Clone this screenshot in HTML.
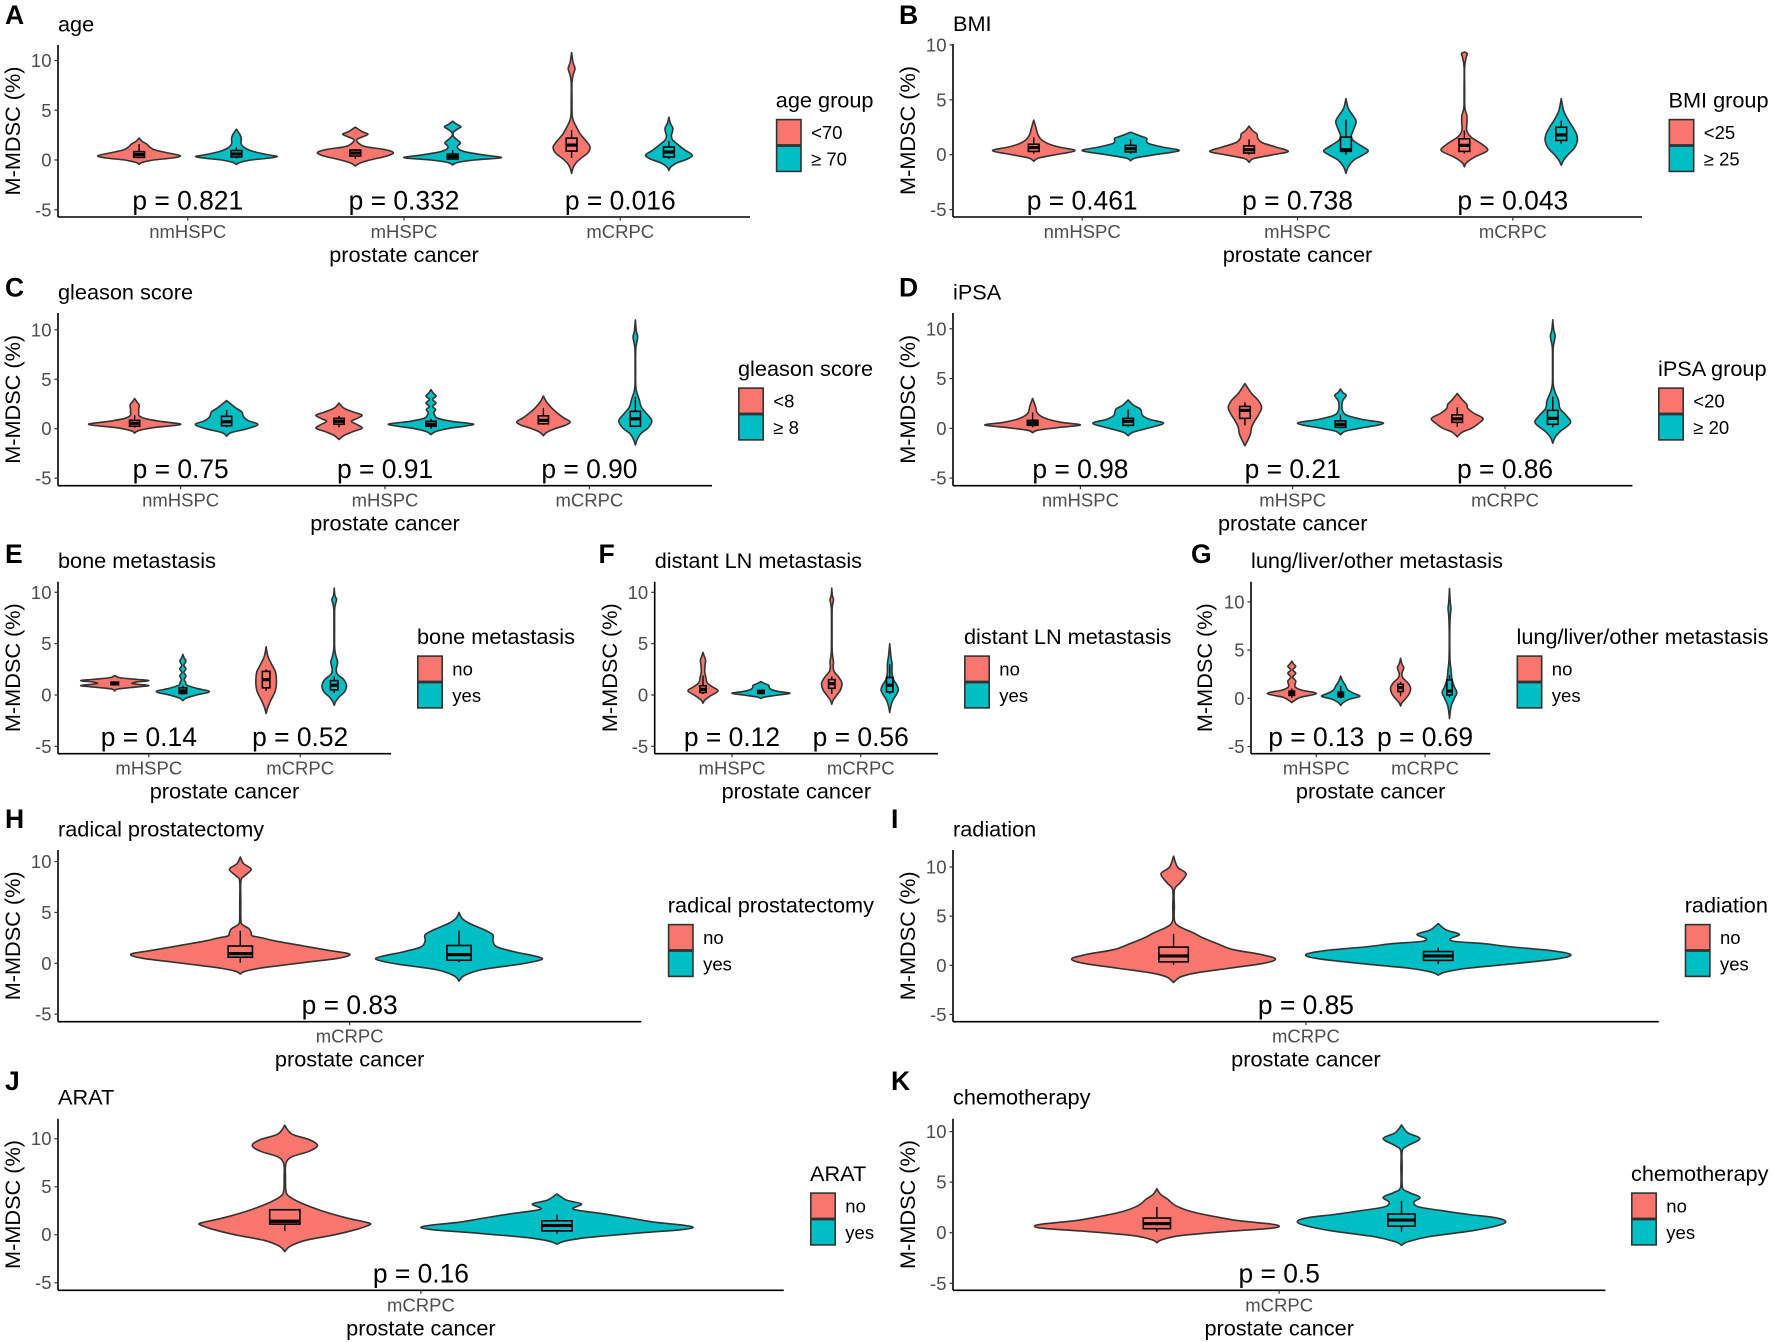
<!DOCTYPE html>
<html lang="en">
<head>
<meta charset="utf-8">
<title>M-MDSC violin plots</title>
<style>
html,body{margin:0;padding:0;background:#fff;}
svg{display:block;font-family:"Liberation Sans",Arial,sans-serif;}
</style>
</head>
<body>
<svg id="figure" width="1772" height="1342" viewBox="0 0 1772 1342" xmlns="http://www.w3.org/2000/svg"></svg>
<script>
// ---------- shared data ----------
const yTicks = [-5, 0, 5, 10];
const cats3 = ['nmHSPC', 'mHSPC', 'mCRPC'];
const cats2 = ['mHSPC', 'mCRPC'];
const cats1 = ['mCRPC'];
const noYes = ['no', 'yes'];

// Each violin is a list of [M-MDSC value, relative density]; each box is [low, q1, median, q3, high].
// Order inside a panel: group 1 / group 2 for category 1, then category 2, ...
const agePValues = ['p = 0.821', 'p = 0.332', 'p = 0.016'];
const ageGroups = ['<70', '≥ 70'];
const ageViolins = [
  [[-.45,0],[-.25,.06],[0,.3],[.2,.68],[.43,.85],[.7,.6],[1,.33],[1.3,.22],[1.6,.16],[1.85,.07],[2.2,0]],
  [[-.45,0],[-.25,.07],[0,.3],[.15,.6],[.33,.84],[.55,.62],[.85,.35],[1.2,.18],[1.6,.1],[2.1,.1],[2.5,.08],[3.1,0]],
  [[-.6,0],[-.3,.1],[0,.3],[.4,.65],[.75,.78],[1.05,.6],[1.3,.25],[1.5,.12],[1.9,.03],[2.1,.04],[2.35,.16],[2.6,.26],[2.85,.14],[3.3,0]],
  [[-.5,0],[-.25,.1],[0,.45],[.23,1],[.5,.65],[.8,.28],[1.1,.12],[1.4,.1],[1.7,.16],[2,.1],[2.4,.015],[2.8,.02],[3.1,.1],[3.35,.17],[3.6,.08],[3.9,0]],
  [[-1.35,0],[-.8,.03],[-.3,.09],[.2,.2],[.7,.33],[1.3,.38],[1.9,.3],[2.6,.18],[3.3,.1],[3.9,.04],[4.5,.012],[6,.008],[7.8,.008],[8.6,.035],[9.2,.07],[9.8,.03],[10.8,0]],
  [[-1.05,0],[-.7,.04],[-.3,.16],[.1,.38],[.5,.48],[1,.33],[1.5,.2],[2,.08],[2.4,.05],[2.8,.07],[3.2,.08],[3.7,.03],[4.3,0]]
];
const ageBoxes = [[.15,.27,.55,.84,1.6],[.15,.3,.6,.95,1.3],[.1,.4,.7,1,1.1],[.05,.1,.35,.6,1],[.2,.9,1.5,2.2,3],[.1,.3,.8,1.3,1.9]];

const bmiPValues = ['p = 0.461', 'p = 0.738', 'p = 0.043'];
const bmiGroups = ['<25', '≥ 25'];
const bmiViolins = [
  [[-.6,0],[-.3,.1],[0,.45],[.37,.85],[.7,.52],[1,.3],[1.4,.15],[1.9,.08],[2.4,.05],[3.15,0]],
  [[-.55,0],[-.3,.1],[0,.5],[.37,1],[.7,.65],[1,.38],[1.2,.33],[1.5,.33],[1.7,.2],[2.05,0]],
  [[-.7,0],[-.35,.1],[0,.5],[.3,.81],[.7,.55],[1.1,.27],[1.5,.18],[1.9,.16],[2.2,.07],[2.6,0]],
  [[-1.7,0],[-1.1,.05],[-.5,.16],[0,.36],[.37,.46],[.8,.32],[1.3,.15],[1.7,.11],[2.2,.15],[3,.21],[3.6,.14],[4.2,.05],[5.1,0]],
  [[-1.1,0],[-.7,.05],[-.2,.22],[.2,.42],[.5,.48],[1,.35],[1.6,.14],[2.2,.05],[3,.055],[3.6,.05],[4.3,.01],[6,.006],[8,.006],[8.9,.04],[9.2,.06],[9.35,0]],
  [[-.95,0],[-.5,.05],[0,.14],[.6,.27],[1.2,.33],[1.8,.32],[2.5,.24],[3.2,.14],[4,.05],[5.1,0]]
];
const bmiBoxes = [[.1,.3,.65,.95,1.6],[.1,.25,.55,.85,1.4],[0,.15,.45,.8,1.4],[0,.3,.45,1.6,3.2],[.1,.3,.85,1.45,2.2],[1,1.3,1.8,2.5,3.1]];

const gleasonPValues = ['p = 0.75', 'p = 0.91', 'p = 0.90'];
const gleasonGroups = ['<8', '≥ 8'];
const gleasonViolins = [
  [[-.45,0],[-.2,.08],[.1,.4],[.43,1],[.75,.55],[1,.25],[1.3,.1],[1.6,.09],[2,.09],[2.4,.1],[2.7,.05],[3.05,0]],
  [[-.75,0],[-.4,.1],[0,.45],[.43,.68],[.8,.48],[1.2,.37],[1.7,.33],[2.1,.2],[2.85,0]],
  [[-1.1,0],[-.7,.1],[-.3,.3],[.05,.5],[.4,.4],[.75,.27],[1.05,.4],[1.38,.5],[1.7,.3],[2.1,.1],[2.6,0]],
  [[-.6,0],[-.3,.1],[0,.35],[.25,.72],[.47,.92],[.75,.45],[1.05,.15],[1.3,.09],[1.6,.06],[1.95,.1],[2.25,.035],[2.6,.11],[2.95,.035],[3.3,.11],[3.6,.05],[3.95,0]],
  [[-.7,0],[-.35,.08],[0,.25],[.35,.48],[.7,.58],[1.1,.44],[1.6,.3],[2.1,.18],[2.7,.07],[3.3,0]],
  [[-1.65,0],[-1.1,.04],[-.5,.12],[.1,.28],[.8,.36],[1.5,.25],[2.2,.13],[3,.08],[3.7,.03],[4.4,.008],[6,.006],[8,.008],[8.7,.03],[9.3,.05],[9.9,.02],[11,0]]
];
const gleasonBoxes = [[.1,.25,.55,.85,1.4],[.15,.3,.7,1.25,1.9],[.15,.45,.75,1.05,1.3],[0,.25,.45,.75,1],[.4,.5,.85,1.3,2.1],[.15,.25,1,1.75,3.2]];

const ipsaPValues = ['p = 0.98', 'p = 0.21', 'p = 0.86'];
const ipsaGroups = ['<20', '≥ 20'];
const ipsaViolins = [
  [[-.45,0],[-.2,.1],[.05,.5],[.33,1],[.6,.6],[.9,.33],[1.2,.18],[1.6,.09],[2.2,.06],[3,0]],
  [[-.75,0],[-.4,.1],[0,.4],[.5,.74],[.9,.45],[1.3,.3],[1.9,.26],[2.3,.12],[2.85,0]],
  [[-1.75,0],[-1.1,.07],[-.5,.12],[.1,.14],[.7,.2],[1.4,.29],[2.1,.35],[2.8,.28],[3.5,.14],[4.5,0]],
  [[-.65,0],[-.3,.1],[0,.4],[.5,.9],[.9,.45],[1.3,.14],[1.7,.05],[2.3,.03],[2.8,.05],[3.3,.12],[3.6,.05],[3.95,0]],
  [[-.85,0],[-.4,.1],[0,.3],[.5,.45],[1,.54],[1.5,.35],[2,.22],[2.4,.2],[2.9,.1],[3.5,0]],
  [[-1.5,0],[-.9,.05],[-.3,.16],[.55,.37],[1.3,.28],[2,.15],[2.8,.12],[3.6,.05],[4.4,.01],[6,.006],[8,.008],[8.7,.03],[9.3,.05],[9.9,.02],[10.9,0]]
];
const ipsaBoxes = [[.1,.3,.55,.8,1.6],[.15,.3,.7,1,1.9],[.3,1,1.8,2.2,2.6],[0,.1,.4,.75,1.4],[.15,.6,.95,1.35,2.1],[.1,.4,1,1.8,3.2]];

const bonePValues = ['p = 0.14', 'p = 0.52'];
const boneViolins = [
  [[.4,0],[.6,.12],[.8,.7],[.92,1],[1.05,.65],[1.15,.5],[1.27,.65],[1.4,1],[1.52,.65],[1.68,.15],[1.9,0]],
  [[-.55,0],[-.3,.1],[0,.4],[.33,.78],[.65,.4],[.95,.12],[1.25,.08],[1.5,.04],[1.85,.09],[2.2,.03],[2.55,.09],[2.9,.03],[3.3,.09],[3.6,.04],[3.95,0]],
  [[-1.8,0],[-1.2,.05],[-.5,.14],[.3,.26],[1,.3],[1.6,.3],[2.3,.27],[3,.16],[3.8,.05],[4.7,0]],
  [[-1,0],[-.6,.05],[-.2,.14],[.3,.3],[.9,.36],[1.5,.28],[2,.1],[2.5,.06],[3.2,.1],[3.8,.05],[4.6,.012],[6.5,.01],[8.3,.012],[8.9,.04],[9.3,.07],[9.7,.02],[10.4,0]]
];
const boneBoxes = [[.95,1,1.15,1.25,1.3],[.05,.15,.4,.7,.9],[.4,.7,1.5,2.3,2.5],[.2,.5,.95,1.4,1.8]];

const lnPValues = ['p = 0.12', 'p = 0.56'];
const lnViolins = [
  [[-.8,0],[-.5,.06],[-.1,.25],[.4,.52],[.8,.32],[1.2,.14],[1.7,.1],[2.3,.06],[2.9,.07],[3.4,.09],[3.8,.04],[4.15,0]],
  [[-.35,0],[-.2,.12],[0,.6],[.17,1],[.35,.6],[.55,.35],[.75,.28],[.95,.27],[1.1,.14],[1.3,0]],
  [[-.9,0],[-.5,.05],[-.1,.15],[.5,.3],[1.15,.35],[1.7,.25],[2.3,.08],[2.8,.05],[3.2,.06],[3.8,.03],[4.5,.012],[6.5,.01],[8.3,.012],[8.9,.035],[9.3,.06],[9.7,.02],[10.4,0]],
  [[-1.7,0],[-1.1,.04],[-.5,.11],[0,.22],[.5,.3],[1,.24],[1.5,.13],[2.2,.08],[3,.08],[3.8,.04],[5,0]]
];
const lnBoxes = [[.1,.25,.55,.9,1.9],[.1,.15,.3,.45,.5],[.1,.65,1.1,1.5,1.8],[.1,.3,.95,1.7,3]];

const lungPValues = ['p = 0.13', 'p = 0.69'];
const lungViolins = [
  [[-.45,0],[-.25,.1],[.1,.35],[.5,1],[.85,.4],[1.15,.15],[1.4,.13],[1.8,.16],[2.2,.04],[2.6,.16],[2.95,.04],[3.3,.16],[3.55,.08],[3.85,0]],
  [[-.75,0],[-.45,.1],[-.1,.35],[.2,.78],[.5,.55],[.85,.3],[1.3,.2],[1.8,.08],[2.3,0]],
  [[-.8,0],[-.45,.06],[0,.22],[.5,.36],[1.05,.41],[1.6,.3],[2.1,.1],[2.5,.05],[2.85,.09],[3.2,.13],[3.6,.05],[4.15,0]],
  [[-2.1,0],[-1.4,.03],[-.7,.08],[0,.2],[.6,.3],[1.2,.2],[2,.1],[3,.06],[3.8,.025],[5,.012],[7,.012],[8.5,.03],[9.3,.06],[10,.03],[11.4,0]]
];
const lungBoxes = [[.05,.3,.55,.75,1],[0,.15,.4,.65,1.3],[.2,.7,1.1,1.45,1.7],[.1,.35,.75,1.9,2.4]];

const rpPValues = ['p = 0.83'];
const rpViolins = [
  [[-1.05,0],[-.8,.04],[-.5,.17],[-.2,.38],[.1,.6],[.5,.9],[.9,1],[1.25,.82],[1.7,.58],[2.2,.32],[2.5,.2],[2.7,.11],[3,.1],[3.4,.08],[3.8,.02],[4.2,.006],[6,.005],[8.1,.006],[8.6,.04],[9.25,.1],[9.8,.03],[10.45,0]],
  [[-1.75,0],[-1.2,.05],[-.6,.22],[-.1,.55],[.25,.72],[.5,.76],[.8,.66],[1.1,.52],[1.6,.35],[2.2,.31],[2.8,.31],[3.3,.23],[3.9,.1],[4.4,.03],[5,0]]
];
const rpBoxes = [[.05,.6,.95,1.7,3.2],[.1,.3,.85,1.75,3.2]];

const radPValues = ['p = 0.85'];
const radViolins = [
  [[-1.75,0],[-1.2,.05],[-.8,.16],[-.3,.42],[.2,.68],[.65,.77],[1.1,.66],[1.6,.45],[2.2,.33],[2.8,.22],[3.3,.15],[3.9,.05],[4.5,.008],[6,.006],[7.7,.007],[8.4,.05],[9.3,.095],[10,.03],[11.1,0]],
  [[-1,0],[-.7,.05],[-.3,.22],[.2,.6],[.7,.92],[1.1,1],[1.5,.85],[1.9,.53],[2.2,.35],[2.42,.13],[2.7,.09],[3.15,.16],[3.6,.06],[4.25,0]]
];
const radBoxes = [[.05,.35,.95,1.85,3.2],[.15,.5,.95,1.4,1.8]];

const aratPValues = ['p = 0.16'];
const aratViolins = [
  [[-1.75,0],[-1.2,.04],[-.6,.15],[0,.37],[.6,.54],[.95,.61],[1.15,.63],[1.35,.58],[1.8,.44],[2.5,.27],[3.3,.12],[4,.03],[4.6,.008],[6,.005],[7.4,.008],[8.1,.05],[8.7,.18],[9.3,.24],[9.9,.18],[10.5,.05],[11.4,0]],
  [[-1,0],[-.7,.05],[-.3,.22],[.2,.62],[.5,.9],[.75,1],[1,.92],[1.3,.72],[1.7,.55],[2.2,.33],[2.65,.12],[3.2,.18],[3.6,.07],[4.25,0]]
];
const aratBoxes = [[.4,1.1,1.4,2.6,2.6],[.1,.4,.95,1.45,2.1]];

const chemoPValues = ['p = 0.5'];
const chemoViolins = [
  [[-1,0],[-.7,.04],[-.3,.19],[.1,.55],[.42,.92],[.65,1],[.88,.92],[1.2,.66],[1.6,.47],[2.1,.28],[2.7,.15],[3.3,.09],[3.8,.03],[4.35,0]],
  [[-1.25,0],[-.9,.05],[-.4,.22],[.2,.58],[.75,.8],[1.15,.85],[1.5,.76],[1.8,.55],[2.2,.32],[2.55,.14],[3,.1],[3.5,.15],[4,.06],[4.5,.007],[6.5,.005],[8.1,.006],[8.6,.05],[9.3,.15],[9.9,.05],[10.65,0]]
];
const chemoBoxes = [[.1,.4,.9,1.45,2.55],[.1,.65,1.25,1.85,3.15]];

// ---------- panel definitions (data references + page layout) ----------
const panels = [
  {id:'A',key:'age',title:'age',legend:'age group',groups:ageGroups,cats:cats3,ps:agePValues,violins:ageViolins,boxes:ageBoxes,
   left:58,right:750,top:45,bottom:217,y0:160,unit:9.95,letterX:5,letterY:24,titleY:31.7,yTitleX:20,legendX:775.8,keyTop:119},
  {id:'B',key:'bmi',title:'BMI',legend:'BMI group',groups:bmiGroups,cats:cats3,ps:bmiPValues,violins:bmiViolins,boxes:bmiBoxes,
   left:953,right:1642,top:44,bottom:217,y0:154.7,unit:10.98,letterX:899,letterY:24,titleY:31,yTitleX:915,legendX:1668.5,keyTop:119},
  {id:'C',key:'gleason',title:'gleason score',legend:'gleason score',groups:gleasonGroups,cats:cats3,ps:gleasonPValues,violins:gleasonViolins,boxes:gleasonBoxes,
   left:58,right:712,top:313,bottom:485.7,y0:428.7,unit:9.89,letterX:5,letterY:296.5,titleY:299.5,yTitleX:20,legendX:738,keyTop:387.5},
  {id:'D',key:'ipsa',title:'iPSA',legend:'iPSA group',groups:ipsaGroups,cats:cats3,ps:ipsaPValues,violins:ipsaViolins,boxes:ipsaBoxes,
   left:953,right:1632.4,top:313,bottom:485.7,y0:428.3,unit:9.95,letterX:899,letterY:296.5,titleY:299.5,yTitleX:915,legendX:1658,keyTop:387.5},
  {id:'E',key:'bone',title:'bone metastasis',legend:'bone metastasis',groups:noYes,cats:cats2,ps:bonePValues,violins:boneViolins,boxes:boneBoxes,
   left:58,right:391,top:581.7,bottom:753.7,y0:695,unit:10.27,letterX:5,letterY:563,titleY:567.8,yTitleX:20,legendX:417,keyTop:655.5},
  {id:'F',key:'lymph-node',title:'distant LN metastasis',legend:'distant LN metastasis',groups:noYes,cats:cats2,ps:lnPValues,violins:lnViolins,boxes:lnBoxes,
   left:654.7,right:938,top:581.7,bottom:753.7,y0:695,unit:10.27,letterX:598.5,letterY:563,titleY:567.8,yTitleX:617,legendX:964,keyTop:655.5},
  {id:'G',key:'lung-liver',title:'lung/liver/other metastasis',legend:'lung/liver/other metastasis',groups:noYes,cats:cats2,ps:lungPValues,violins:lungViolins,boxes:lungBoxes,
   left:1251,right:1490.3,top:581.7,bottom:753.7,y0:698.3,unit:9.64,letterX:1191,letterY:563,titleY:567.8,yTitleX:1212,legendX:1516.5,keyTop:655.5},
  {id:'H',key:'prostatectomy',title:'radical prostatectomy',legend:'radical prostatectomy',groups:noYes,cats:cats1,ps:rpPValues,violins:rpViolins,boxes:rpBoxes,
   left:58,right:641.3,top:850,bottom:1021.7,y0:963.3,unit:10.17,letterX:5,letterY:828,titleY:836.3,yTitleX:20,legendX:667.8,keyTop:924},
  {id:'I',key:'radiation',title:'radiation',legend:'radiation',groups:noYes,cats:cats1,ps:radPValues,violins:radViolins,boxes:radBoxes,
   left:953,right:1658.8,top:850,bottom:1021.7,y0:965.3,unit:9.83,letterX:891,letterY:828,titleY:836.3,yTitleX:915,legendX:1684.7,keyTop:924},
  {id:'J',key:'arat',title:'ARAT',legend:'ARAT',groups:noYes,cats:cats1,ps:aratPValues,violins:aratViolins,boxes:aratBoxes,
   left:58,right:783.8,top:1118.7,bottom:1290.3,y0:1234.7,unit:9.6,letterX:5,letterY:1090,titleY:1104.3,yTitleX:20,legendX:810,keyTop:1192.5},
  {id:'K',key:'chemotherapy',title:'chemotherapy',legend:'chemotherapy',groups:noYes,cats:cats1,ps:chemoPValues,violins:chemoViolins,boxes:chemoBoxes,
   left:953,right:1605.4,top:1118.7,bottom:1290.3,y0:1232.7,unit:10.11,letterX:891,letterY:1090,titleY:1104.3,yTitleX:915,legendX:1631,keyTop:1192.5}
];

const groupColors = ['#F8766D', '#00BFC4'];
const outline = '#333333';
const tickColor = '#4d4d4d';
const svgNS = 'http://www.w3.org/2000/svg';
const fig = document.getElementById('figure');

function mk(tag, attrs, parent, text) {
  const el = document.createElementNS(svgNS, tag);
  for (const k in attrs) el.setAttribute(k, attrs[k]);
  if (text !== undefined) el.textContent = text;
  parent.appendChild(el);
  return el;
}

function violinPath(profile, cx, maxHalf, yOf) {
  const pts = profile.map(p => [maxHalf * p[1], yOf(p[0])]);
  const n = pts.length;
  const segs = [];
  for (let i = 0; i < n - 1; i++) {
    const p0 = pts[Math.max(i - 1, 0)], p1 = pts[i], p2 = pts[i + 1], p3 = pts[Math.min(i + 2, n - 1)];
    const c1x = Math.max(0, p1[0] + (p2[0] - p0[0]) / 6);
    const c1y = p1[1] + (p2[1] - p0[1]) / 6;
    const c2x = Math.max(0, p2[0] - (p3[0] - p1[0]) / 6);
    const c2y = p2[1] - (p3[1] - p1[1]) / 6;
    segs.push([c1x, c1y, c2x, c2y, p2[0], p2[1]]);
  }
  const f = v => v.toFixed(2);
  let d = 'M' + f(cx + pts[0][0]) + ' ' + f(pts[0][1]);
  for (const s of segs) {
    d += 'C' + f(cx + s[0]) + ' ' + f(s[1]) + ' ' + f(cx + s[2]) + ' ' + f(s[3]) + ' ' + f(cx + s[4]) + ' ' + f(s[5]);
  }
  for (let i = segs.length - 1; i >= 0; i--) {
    const s = segs[i];
    const end = pts[i];
    d += 'C' + f(cx - s[2]) + ' ' + f(s[3]) + ' ' + f(cx - s[0]) + ' ' + f(s[1]) + ' ' + f(cx - end[0]) + ' ' + f(end[1]);
  }
  return d + 'Z';
}

function drawPanel(p) {
  const band = (p.right - p.left) / (p.cats.length - 1 + 1.2);
  const xOf = pos => p.left + (0.6 + pos) * band;
  const yOf = v => p.y0 - v * p.unit;
  const maxHalf = 0.225 * band;
  const name = p.key;

  const g = mk('g', {}, fig);
  
  

  const letter = mk('text', {x:p.letterX, y:p.letterY, 'font-size':26.5, 'font-weight':'bold', fill:'#000'}, g, p.id);
  
  

  const title = mk('text', {x:p.left, y:p.titleY, 'font-size':21.7, fill:'#000'}, g, p.title);
  
  

  const yMid = (p.top + p.bottom) / 2;
  const yTitle = mk('text', {x:p.yTitleX, y:yMid, 'font-size':21.7, fill:'#000', 'text-anchor':'middle', transform:'rotate(-90 ' + p.yTitleX + ' ' + yMid + ')'}, g, 'M-MDSC (%)');
  
  

  // violins and boxes
  p.violins.forEach((profile, i) => {
    const catIdx = Math.floor(i / 2);
    const grp = i % 2;
    const cx = xOf(catIdx + (grp === 0 ? -0.225 : 0.225));
    const v = mk('path', {d:violinPath(profile, cx, maxHalf, yOf), fill:groupColors[grp], stroke:outline, 'stroke-width':1.6, 'stroke-linejoin':'round'}, g);
    
    

    const b = p.boxes[i];
    const halfBox = 0.025 * band;
    const whisker = mk('path', {d:'M' + cx + ' ' + yOf(b[4]) + 'V' + yOf(b[3]) + 'M' + cx + ' ' + yOf(b[1]) + 'V' + yOf(b[0]), stroke:'#000', 'stroke-width':1.4, fill:'none'}, g);
    
    

    const box = mk('rect', {x:cx - halfBox, y:yOf(b[3]), width:2 * halfBox, height:yOf(b[1]) - yOf(b[3]), fill:'none', stroke:'#000', 'stroke-width':1.6}, g);
    
    

    const med = mk('line', {x1:cx - halfBox, x2:cx + halfBox, y1:yOf(b[2]), y2:yOf(b[2]), stroke:'#000', 'stroke-width':3.2}, g);
    
    
  });

  // y axis
  const yAxis = mk('line', {x1:p.left, x2:p.left, y1:p.top, y2:p.bottom, stroke:'#000', 'stroke-width':1.6}, g);
  
  
  yTicks.forEach(t => {
    const tick = mk('line', {x1:p.left - 3.5, x2:p.left, y1:yOf(t), y2:yOf(t), stroke:'#333', 'stroke-width':1.2}, g);
    
    
    const lab = mk('text', {x:p.left - 6.5, y:yOf(t) + 6.5, 'font-size':18.5, fill:tickColor, 'text-anchor':'end'}, g, String(t));
    
    
  });

  // x axis
  const xAxis = mk('line', {x1:p.left, x2:p.right, y1:p.bottom, y2:p.bottom, stroke:'#000', 'stroke-width':1.6}, g);
  
  
  p.cats.forEach((c, i) => {
    const cx = xOf(i);
    const tick = mk('line', {x1:cx, x2:cx, y1:p.bottom, y2:p.bottom + 3.5, stroke:'#333', 'stroke-width':1.2}, g);
    
    
    const lab = mk('text', {x:cx, y:p.bottom + 21, 'font-size':18.5, fill:tickColor, 'text-anchor':'middle'}, g, c);
    
    
    const pv = mk('text', {x:cx, y:p.bottom - 7.7, 'font-size':26.4, fill:'#000', 'text-anchor':'middle'}, g, p.ps[i]);
    
    
  });
  const xTitle = mk('text', {x:(p.left + p.right) / 2, y:p.bottom + 45, 'font-size':21.7, fill:'#000', 'text-anchor':'middle'}, g, 'prostate cancer');
  
  

  // legend
  const lg = mk('g', {}, g);
  
  
  const lt = mk('text', {x:p.legendX, y:p.keyTop - 11.3, 'font-size':21.7, fill:'#000'}, lg, p.legend);
  
  
  p.groups.forEach((label, i) => {
    const keyY = p.keyTop + i * 26.5;
    const key = mk('rect', {x:p.legendX + 0.8, y:keyY + 0.6, width:24.4, height:25.3, fill:groupColors[i], stroke:outline, 'stroke-width':1.6}, lg);
    
    
    const kl = mk('text', {x:p.legendX + 35.3, y:keyY + 20, 'font-size':18.5, fill:'#000'}, lg, label);
    
    
  });
}

panels.forEach(drawPanel);
</script>
</body>
</html>
